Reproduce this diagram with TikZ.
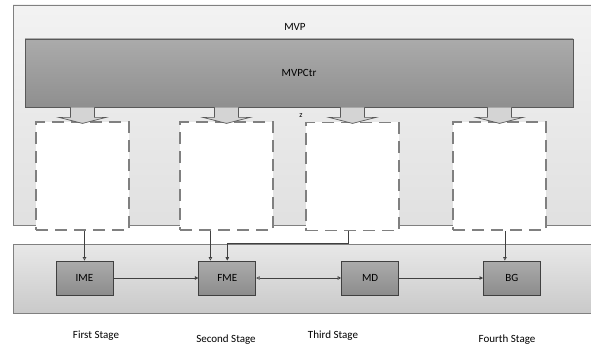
\documentclass[tikz,border=0pt]{standalone}
\usepackage{fontspec}
\setmainfont{Carlito}
\usetikzlibrary{positioning, arrows.meta, calc}

\begin{document}
\begin{tikzpicture}[
  x=1pt, y=-1pt,
  node distance=85pt,
  every node/.style={font=\fontsize{11}{13}\selectfont},
  panel/.style={draw=black!50, line width=0.8pt, inner sep=0pt, minimum width=587pt},
  ctrl/.style={draw=black!65, line width=0.8pt, top color=black!33, bottom color=black!44, inner sep=0pt, minimum width=548pt, minimum height=68pt},
  slot/.style={draw=black!50, fill=white, dash pattern=on 12pt off 7pt, line width=1.8pt, minimum width=93pt, minimum height=108pt, inner sep=0pt},
  unit/.style={draw=black!75, line width=0.8pt, top color=black!33, bottom color=black!45, minimum width=57pt, minimum height=34pt, inner sep=0pt},
  feed/.style={draw=black!65, fill=black!17, line width=0.7pt},
  link/.style={draw=black!75, line width=0.7pt, -{Triangle[open, length=3.5pt, width=3.5pt]}},
  push/.style={draw=black!75, line width=0.7pt, -{Triangle[length=3.5pt, width=3.5pt]}},
  twoway/.style={draw=black!75, line width=0.7pt, {Triangle[open, length=3.5pt, width=3.5pt]}-{Triangle[open, length=3.5pt, width=3.5pt]}}
]
\useasboundingbox (0,0) rectangle (591,350);
\clip (0,0) rectangle (591,350);

\node[panel, top color=black!5, bottom color=black!12, minimum height=220pt] (mvp) at (306.5,115) {};
\node (mvplbl) at (295,27) {MVP};
\node[ctrl] (mvpctr) at (299,73) {MVPCtr};

\node[panel, top color=black!9, bottom color=black!21, minimum height=69pt] (core) at (306.5,278.5) {};

% four empty slots under the controller
\node[slot] (s1) at (82.5,176) {};
\node[slot] (s2) at (226.5,176) {};
\node[slot] (s3) at (352.5,176.5) {};
\node[slot] (s4) at (499.5,176) {};
\node[font=\fontsize{8}{9}\selectfont] (zlbl) at (301,116) {z};

\foreach \s in {s1,s2,s3,s4}
  \draw[feed] (\s.north |- mvpctr.south) ++(-12,0) -- ++(0,10) -- ++(-11.5,0)
    -- ++(23.5,6) -- ++(23.5,-6) -- ++(-11.5,0) -- ++(0,-10);

\node[unit] (ime) at (84.5,278) {IME};
\node[unit, right=85pt of ime] (fme) {FME};
\node[unit, right=85pt of fme] (md) {MD};
\node[unit, right=84pt of md] (bg) {BG};

\coordinate (f2) at ($(fme.north west)+(12,0)$);
\coordinate (bend) at (348,243);
\coordinate (b4) at ($(bg.north)+(-7,0)$);

\draw[link] (ime.north |- s1.south) -- (ime.north);
\draw[link] (f2 |- s2.south) -- (f2);
\draw[push] (bend |- s3.south) -- (bend) -| (fme.north);
\draw[link] (b4 |- s4.south) -- (b4);

\draw[push] (ime) -- (fme);
\draw[twoway] (fme) -- (md);
\draw[push] (md) -- (bg);

\node (st1) at (96,336) {First Stage};
\node (st2) at (226,340) {Second Stage};
\node (st3) at (333,336) {Third Stage};
\node (st4) at (507,340) {Fourth Stage};
\end{tikzpicture}
\end{document}
